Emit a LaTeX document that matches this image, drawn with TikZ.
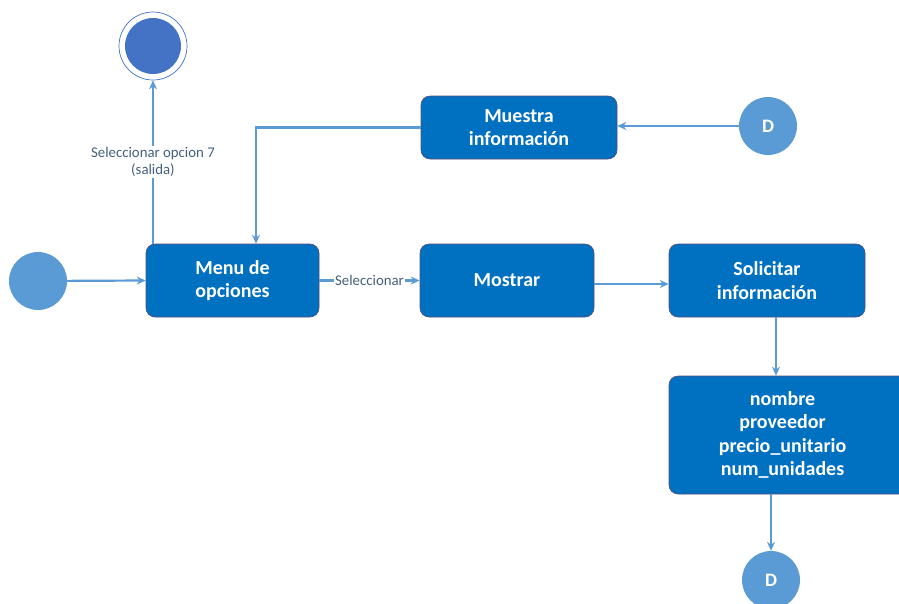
\documentclass[tikz,border=0pt]{standalone}
\usepackage{fontspec}
\setmainfont{Carlito}
\usetikzlibrary{arrows.meta}
\definecolor{boxblue}{HTML}{0070C0}
\definecolor{boxedge}{HTML}{5A4A78}
\definecolor{circblue}{HTML}{5B9BD5}
\definecolor{endblue}{HTML}{4472C4}
\definecolor{linkblue}{HTML}{5B9BD5}
\definecolor{labelgray}{HTML}{44607E}
\begin{document}
\begin{tikzpicture}[x=1pt,y=-1pt,
  boxfont/.style={font=\bfseries\fontsize{20}{23.5}\selectfont},
  stepbox/.style={rectangle, rounded corners=9pt, fill=boxblue, draw=boxedge,
    line width=0.6pt, text=white, align=center, inner sep=0pt, boxfont},
  dot/.style={circle, fill=circblue, minimum size=58pt, inner sep=0pt,
    text=white, font=\bfseries\fontsize{19}{22}\selectfont},
  link/.style={draw=linkblue, line width=2.2pt, -{Stealth[length=9pt,width=8pt]}},
  tag/.style={fill=white, text=labelgray, inner sep=1.5pt, align=center,
    font=\fontsize{14.8}{17}\selectfont}]
\useasboundingbox (0,0) rectangle (899,603);

% states
\node[stepbox, minimum width=173pt, minimum height=73pt] (menu) at (232.5,280.5) {Menu de\\opciones};
\node[stepbox, minimum width=174pt, minimum height=73pt] (mostrar) at (507,280.5) {Mostrar};
\node[stepbox, minimum width=196pt, minimum height=73pt] (solicitar) at (767,280.5) {Solicitar\\información};
\node[stepbox, minimum width=196pt, minimum height=63pt] (muestra) at (519,127.5) {Muestra\\información};
% the data box runs past the right edge; its text is set on its own
\node[stepbox, minimum width=244pt, minimum height=118pt] (datos) at (791,435) {};
\node[text=white, align=center, inner sep=0pt, boxfont] (campos) at (782.5,435)
  {nombre\\proveedor\\precio\_unitario\\num\_unidades};

% start, end and connectors D
\node[dot] (inicio) at (38,281) {};
\node[dot] (dtop) at (768,126) {D};
\node[dot] (dbot) at (771,580) {D};
\node[circle, draw=endblue, line width=0.7pt, minimum size=68pt, inner sep=0pt] (fin) at (153,46) {};
\fill[endblue] (fin.center) circle (28);

% transitions
\draw[link] (inicio) -- (menu.west);
\draw[link] (menu.east) -- node[tag] {Seleccionar} (mostrar.west);
\draw[link] ([yshift=-3.5pt]mostrar.east) -- ([yshift=-3.5pt]solicitar.west);
\draw[link] ([xshift=9pt]solicitar.south) -- ([xshift=-15pt]datos.north);
\draw[link] ([xshift=-20pt]datos.south) -- (dbot);
\draw[link] (dtop) -- (muestra.east |- dtop);
\draw[link] (muestra.west) -| ([xshift=23.5pt]menu.north);
\draw[link] ([xshift=-79.5pt]menu.north) -- node[tag] {Seleccionar opcion 7\\(salida)} (fin.south);
\end{tikzpicture}
\end{document}
